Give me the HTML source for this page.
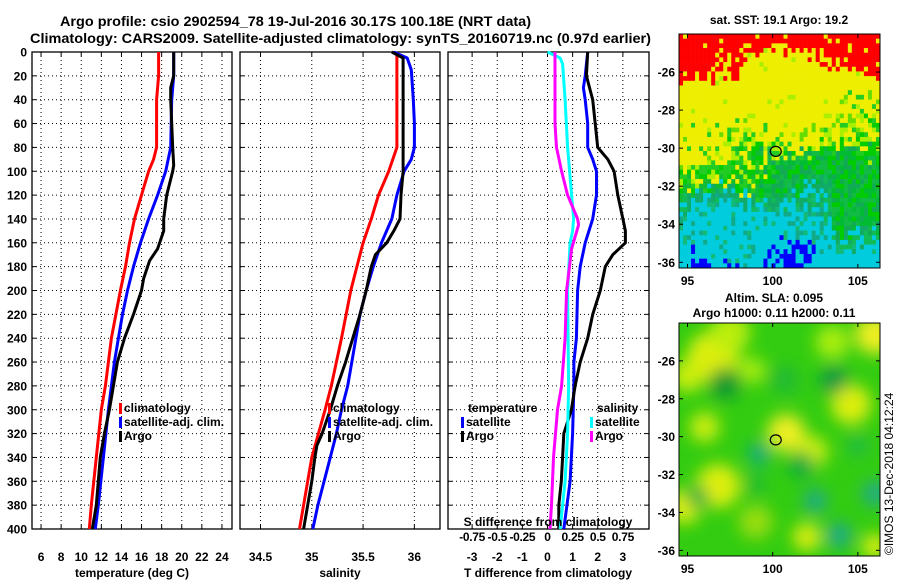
<!DOCTYPE html>
<html><head><meta charset="utf-8"><style>
body{margin:0;background:#fff}
svg{display:block;font-family:"Liberation Sans",sans-serif;font-weight:bold}
</style></head><body>
<svg id="c" width="900" height="580" viewBox="0 0 900 580" xmlns="http://www.w3.org/2000/svg">
<defs><filter id="bl" x="-50%" y="-50%" width="200%" height="200%"><feGaussianBlur stdDeviation="8"/></filter>
<clipPath id="mc2"><rect x="679" y="323" width="201" height="233"/></clipPath></defs>
<text x="60" y="26" textLength="471" lengthAdjust="spacingAndGlyphs" font-size="14">Argo profile: csio 2902594_78 19-Jul-2016 30.17S 100.18E (NRT data)</text>
<text x="30" y="43" textLength="621" lengthAdjust="spacingAndGlyphs" font-size="14">Climatology: CARS2009. Satellite-adjusted climatology: synTS_20160719.nc (0.97d earlier)</text>
<text x="779" y="24" text-anchor="middle" font-size="12">sat. SST: 19.1 Argo: 19.2</text>
<text x="774" y="302" text-anchor="middle" font-size="12">Altim. SLA: 0.095</text>
<text x="774" y="317" text-anchor="middle" font-size="12">Argo h1000: 0.11 h2000: 0.11</text>
<text transform="translate(893,555) rotate(-90)" font-size="12" font-weight="normal">©IMOS 13-Dec-2018 04:12:24</text>
<g id="g"></g>
</svg>
<script>
// ---- data ----
const depthTC=[0,20,40,80,90,100,120,140,160,180,200,240,280,300,340,380,400];
const tempClim=[17.7,17.7,17.5,17.5,17.2,16.7,16.0,15.3,14.8,14.4,13.9,13.0,12.4,12.0,11.5,11.0,10.8];
const depthTS=[0,20,40,80,100,120,140,160,180,200,220,240,260,280,300,340,380,400];
const tempSat=[19.2,19.2,19.0,18.9,18.4,17.6,16.7,15.9,15.2,14.6,14.1,13.7,13.3,13.0,12.7,12.2,11.7,11.4];
const depthTA=[0,20,30,40,80,95,100,120,140,150,165,175,190,200,220,240,260,280,300,320,340,380,400];
const tempArgo=[19.2,19.2,18.9,18.9,19.1,19.2,19.1,18.5,18.2,18.2,17.6,16.8,16.2,16.0,15.2,14.3,13.6,13.2,12.8,12.3,11.9,11.5,11.1];
const depthSC=[0,80,100,120,140,160,180,200,240,280,300,340,380,400];
const salClim=[35.83,35.83,35.75,35.65,35.58,35.50,35.44,35.38,35.29,35.19,35.13,35.0,34.92,34.88];
const depthSS=[0,5,15,40,60,80,90,100,120,140,160,180,200,220,240,260,280,300,320,340,360,380,400];
const salSat=[35.8,35.93,35.97,35.99,36.0,36.0,35.97,35.90,35.83,35.78,35.68,35.60,35.53,35.47,35.43,35.39,35.35,35.29,35.24,35.18,35.12,35.06,35.01];
const depthSA=[0,5,100,120,140,150,160,170,180,200,220,240,260,280,300,320,330,340,360,380,400];
const salArgo=[35.78,35.89,35.89,35.87,35.86,35.80,35.73,35.62,35.58,35.53,35.47,35.40,35.33,35.25,35.18,35.10,35.05,35.03,35.0,34.96,34.92];
const depthDT=[0,20,30,40,60,80,90,100,120,140,160,180,200,240,260,280,320,360,400];
const dTSat=[1.6,1.5,1.43,1.5,1.6,1.6,1.8,1.95,1.95,1.8,1.5,1.3,1.2,1.15,1.05,1.05,1.0,0.9,0.65];
const depthDA=[0,20,40,60,80,90,100,120,140,150,160,170,180,200,220,240,260,280,300,320,340,360,380,400];
const dTArgo=[1.6,1.55,1.8,1.9,2.0,2.4,2.65,2.8,3.0,3.1,3.1,2.6,2.3,2.1,1.8,1.6,1.3,1.1,0.95,0.65,0.6,0.55,0.45,0.45];
const depthDSS=[0,5,10,40,80,120,140,150,160,200,280,320,360,400];
const dSSat=[0,0.125,0.15,0.175,0.2,0.24,0.26,0.25,0.225,0.2,0.21,0.2,0.175,0.125];
const depthDSA=[0,20,60,80,100,120,130,140,145,155,165,200,240,280,300,340,380,400];
const dSArgo=[0.075,0.075,0.075,0.09,0.14,0.2,0.25,0.3,0.31,0.275,0.24,0.19,0.175,0.14,0.1,0.06,0.04,0.025];
const depthTicks=[0,20,40,60,80,100,120,140,160,180,200,220,240,260,280,300,320,340,360,380,400];
const tempTicks=[6,8,10,12,14,16,18,20,22,24];
const salTicks=[34.5,35,35.5,36];
const dtTicks=[-3,-2,-1,0,1,2,3];
const dsTicks=[-0.75,-0.5,-0.25,0,0.25,0.5,0.75];
const latTicks=[-26,-28,-30,-32,-34,-36];
const lonTicks=[95,100,105];
const argoLon=100.18, argoLat=-30.17;

const NS='http://www.w3.org/2000/svg';
const G=document.getElementById('g');
function el(t,a,p){const e=document.createElementNS(NS,t);for(const k in a)e.setAttribute(k,a[k]);(p||G).appendChild(e);return e;}
const Y0=52,Y1=529;
const yD=d=>Y0+(d/400)*(Y1-Y0);
function lin(d0,d1,r0,r1){return v=>r0+(v-d0)/(d1-d0)*(r1-r0);}
const xT=lin(5.1,25,32,232), xS=lin(34.3,36.25,240,440), xDT=lin(-3.96,4.04,448,649), xDS=s=>xDT(4*s);

function panel(name,x0,x1,ticks,xf,showY){
  const g=el('g',{});
  
  
  for(const t of ticks){const x=xf(t);
    const l=el('line',{x1:x,x2:x,y1:Y0,y2:Y1,stroke:'#000','stroke-width':1,'stroke-dasharray':'1,3'},g);
    
    el('line',{x1:x,x2:x,y1:Y1,y2:Y1-4,stroke:'#000'},g);el('line',{x1:x,x2:x,y1:Y0,y2:Y0+4,stroke:'#000'},g);
    const tx=el('text',{x:x,y:561,'text-anchor':'middle','font-size':12},g);tx.textContent=t;
    }
  for(const d of depthTicks){const y=yD(d);
    const l=el('line',{x1:x0,x2:x1,y1:y,y2:y,stroke:'#000','stroke-width':1,'stroke-dasharray':'1,3'},g);
    
    el('line',{x1:x0,x2:x0+4,y1:y,y2:y,stroke:'#000'},g);el('line',{x1:x1,x2:x1-4,y1:y,y2:y,stroke:'#000'},g);
    if(showY){const tx=el('text',{x:27,y:y+4.5,'text-anchor':'end','font-size':12},g);tx.textContent=d;
    }}
  const r=el('rect',{x:x0,y:Y0,width:x1-x0,height:Y1-Y0,fill:'none',stroke:'#000','stroke-width':1.3},g);
  
  return g;
}
function series(g,name,ds,vs,xf,col){
  const pts=ds.map((d,i)=>xf(vs[i]).toFixed(1)+','+yD(d).toFixed(1)).join(' ');
  const p=el('polyline',{points:pts,fill:'none',stroke:col,'stroke-width':3,'stroke-linejoin':'round'},g);
  
  
}
function legend(g,x,y,items){
  items.forEach((it,i)=>{
    const r=el('rect',{x:x,y:y+i*14-9,width:3,height:11,fill:it[1]},g);
    
    const t=el('text',{x:x+5,y:y+i*14,'font-size':12},g);t.textContent=it[0];
    
  });
}
function title(x,txt,name){const t=el('text',{x:x,y:577,'text-anchor':'middle','font-size':12});t.textContent=txt;
  }

const p1=panel('temperature-panel',32,232,tempTicks,xT,true);
series(p1,'temp-climatology-line',depthTC,tempClim,xT,'#f00');
series(p1,'temp-satellite-line',depthTS,tempSat,xT,'#00f');
series(p1,'temp-argo-line',depthTA,tempArgo,xT,'#000');
legend(p1,119,412,[['climatology','#f00'],['satellite-adj. clim.','#00f'],['Argo','#000']]);
title(132,'temperature (deg C)','x-axis-title-temperature');

const p2=panel('salinity-panel',240,440,salTicks,xS,false);
series(p2,'sal-climatology-line',depthSC,salClim,xS,'#f00');
series(p2,'sal-satellite-line',depthSS,salSat,xS,'#00f');
series(p2,'sal-argo-line',depthSA,salArgo,xS,'#000');
legend(p2,328,412,[['climatology','#f00'],['satellite-adj. clim.','#00f'],['Argo','#000']]);
title(340,'salinity','x-axis-title-salinity');

const p3=panel('difference-panel',448,649,dtTicks,xDT,false);
series(p3,'dt-satellite-line',depthDT,dTSat,xDT,'#00f');
series(p3,'dt-argo-line',depthDA,dTArgo,xDT,'#000');
series(p3,'ds-satellite-line',depthDSS,dSSat,xDS,'#0ff');
series(p3,'ds-argo-line',depthDSA,dSArgo,xDS,'#f0f');
{const t=el('text',{x:468,y:412,'font-size':12},p3);t.textContent='temperature';
 const t2=el('text',{x:597,y:412,'font-size':12},p3);t2.textContent='salinity';}
legend(p3,461,426,[['satellite','#00f'],['Argo','#000']]);
legend(p3,590,426,[['satellite','#0ff'],['Argo','#f0f']]);
{const t=el('text',{x:548,y:526,'text-anchor':'middle','font-size':12},p3);t.textContent='S difference from climatology';
 for(const s of dsTicks){const tx=el('text',{x:xDS(s),y:541,'text-anchor':'middle','font-size':12,'letter-spacing':'-0.3'},p3);tx.textContent=String(s);}}
title(548,'T difference from climatology','x-axis-title-tdiff');

// ---- maps ----
const MX0=679,MX1=880;
const lonX=lin(94.5,106.3,MX0,MX1);
function mapAxes(g,yTop,yBot,latY){
  for(const la of latTicks){const y=latY(la);
    el('line',{x1:MX0,x2:MX0+4,y1:y,y2:y,stroke:'#000'},g);
    el('line',{x1:MX1,x2:MX1-4,y1:y,y2:y,stroke:'#000'},g);
    const t=el('text',{x:675,y:y+4.5,'text-anchor':'end','font-size':12},g);t.textContent=la;}
  for(const lo of lonTicks){const x=lonX(lo);
    el('line',{x1:x,x2:x,y1:yBot,y2:yBot-4,stroke:'#000'},g);
    el('line',{x1:x,x2:x,y1:yTop,y2:yTop+4,stroke:'#000'},g);
    const t=el('text',{x:x,y:yBot+17,'text-anchor':'middle','font-size':12},g);t.textContent=lo;}
  const r=el('rect',{x:MX0,y:yTop,width:MX1-MX0,height:yBot-yTop,fill:'none',stroke:'#000'},g);
  
  const c=el('ellipse',{cx:lonX(argoLon),cy:latY(argoLat),rx:5.5,ry:5,fill:'none',stroke:'#000','stroke-width':1.2},g);
  
}
// SST map texture
let seed=11;const rnd=()=>{seed=(seed*16807)%2147483647;return seed/2147483647;};
const pick=a=>a[Math.floor(rnd()*a.length)];
const m1=el('g',{});
const lat1=lin(-24,-36.3,34,268);
const N=50,cw=(MX1-MX0)/N,ch=(268-34)/N;
for(let r=0;r<N;r++)for(let c=0;c<N;c++){
  const u=c/N;
  const f=r/N+0.03*Math.sin(c/4+r/6)+0.03*Math.sin(c/7-r/3)+(rnd()-0.5)*0.09;
  let redLim=0.1+(u<0.2?0.13*(1-u/0.2):0)+(u>0.85?0.1*(u-0.85)/0.15:0)+(u>0.3&&u<0.5?-0.03:0);
  const g0=0.53-0.13*u;
  const cy=0.70-0.06*Math.sin(Math.PI*u)+(u>0.75?0.12:0);
  let col;
  if(f<redLim)col=rnd()<0.08?'#eeee00':'#f00';
  else if(f<g0-0.12)col=rnd()<0.04?'#aaee00':'#eeee00';
  else if(f<g0)col=rnd()<0.25?pick(['#aaee00','#66dd00','#22cc22']):'#eeee00';
  else if(f<g0+0.06)col=pick(['#eeee00','#aaee00','#22cc22','#00cc00']);
  else if(f<cy)col=u<0.4?pick(['#00cc00','#11bb33','#aaee00','#22cc22','#11bb33','#eeee00']):pick(['#00cc00','#11bb44','#11aa55','#00bb33']);
  else if(f<cy+0.08)col=pick(['#11aa66','#11bb55','#00ccdd','#11aa66']);
  else if(f<0.92)col=rnd()<0.75?'#00ccdd':pick(['#11aa88','#11bb77']);
  else col=((u>0.05&&u<0.3)||(u>0.4&&u<0.68))&&rnd()<0.5?'#0000ff':'#00ccdd';
  el('rect',{x:(MX0+c*cw).toFixed(2),y:(34+r*ch).toFixed(2),width:(cw+0.3).toFixed(2),height:(ch+0.3).toFixed(2),fill:col},m1);
}
mapAxes(m1,34,268,lat1);
// SLA map smooth blobs
const m2=el('g',{});
const lat2=lin(-24,-36.3,323,556);
const inner=el('g',{'clip-path':'url(#mc2)'},m2);
el('rect',{x:MX0,y:323,width:MX1-MX0,height:233,fill:'#33cc11'},inner);
const bg=el('g',{filter:'url(#bl)'},inner);
const blobs=[[96.5,-25.8,26,'#ddee11'],[95,-26.8,16,'#ccee11'],[97.5,-24.5,20,'#bbee11'],[106,-24.6,20,'#eeee22'],[104.6,-28.3,20,'#ddee11'],[100.8,-29.8,19,'#eeee22'],[102.3,-30.8,16,'#ccee11'],[96.8,-32.6,22,'#ddee11'],[94.8,-33.7,17,'#ddee11'],[96,-29.5,15,'#ccee11'],[102,-35.3,14,'#ddee11'],[106,-35.8,13,'#ddee11'],[103.5,-25,17,'#aaee11'],[99,-34.5,17,'#99dd11'],[98.8,-26.5,13,'#aaee11'],
[97.2,-27.2,16,'#119933'],[103.6,-27.0,14,'#119944'],[99.2,-30.9,11,'#11aa88'],[101.7,-31.5,13,'#11aa44'],[102.5,-33.4,12,'#22aa88'],[106,-33,13,'#22aa88'],[103.9,-35.2,13,'#22aa88'],[95.6,-33.2,11,'#11aa44'],[100.7,-27,15,'#22bb33'],[99,-32.5,11,'#22bb33'],[105,-30.5,11,'#22bb44']];
for(const b of blobs)el('circle',{cx:lonX(b[0]),cy:lat2(b[1]),r:b[2],fill:b[3]},bg);
mapAxes(m2,323,556,lat2);
</script>
</body></html>
